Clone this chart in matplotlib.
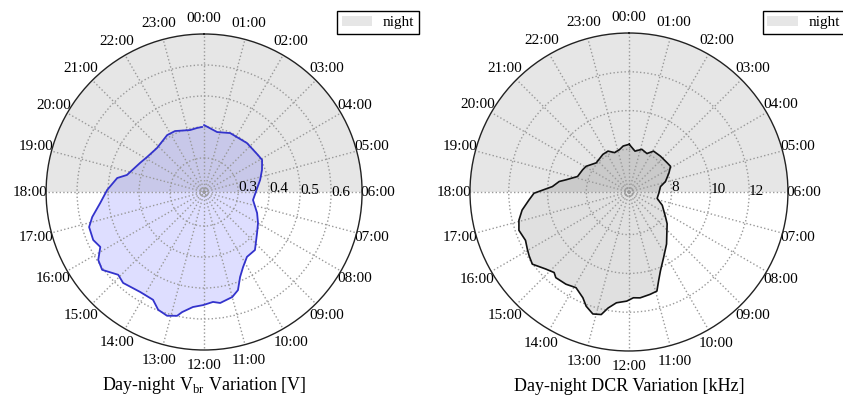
import numpy as np
import matplotlib

matplotlib.use("Agg")  # headless
import matplotlib.pyplot as plt

plt.rcParams["font.family"] = ["Liberation Serif", "DejaVu Serif"]
plt.rcParams["mathtext.fontset"] = "custom"
plt.rcParams["mathtext.rm"] = "Liberation Serif"

# hour-of-day tick labels (00:00 on top, clockwise)
HOUR_LABELS = ["00:00", "01:00", "02:00", "03:00", "04:00", "05:00",
               "06:00", "07:00", "08:00", "09:00", "10:00", "11:00",
               "12:00", "13:00", "14:00", "15:00", "16:00", "17:00",
               "18:00", "19:00", "20:00", "21:00", "22:00", "23:00"]

# breakdown-voltage variation [V] vs hour of day
vbr_hour = [0.0, 0.82, 1.59, 2.75, 3.71, 4.07, 4.61, 5.19, 5.71, 6.62, 7.44,
            8.0, 8.51, 9.25, 9.77, 10.17, 10.47, 10.73, 11.0, 11.45, 11.69,
            12.03, 12.37, 12.69, 12.82, 13.11, 13.42, 13.69, 14.17, 14.78,
            15.07, 15.51, 15.82, 16.14, 16.44, 16.87, 17.16, 17.6, 18.08,
            18.61, 18.83, 19.63, 20.1, 20.87, 21.8, 22.3, 23.15, 23.59, 23.88]
vbr_val = [0.406, 0.388, 0.398, 0.400, 0.401, 0.404, 0.390, 0.375, 0.362,
           0.350, 0.374, 0.391, 0.406, 0.439, 0.441, 0.463, 0.488, 0.525,
           0.541, 0.552, 0.546, 0.555, 0.563, 0.584, 0.599, 0.607, 0.598,
           0.575, 0.573, 0.583, 0.575, 0.604, 0.596, 0.569, 0.580, 0.578,
           0.560, 0.527, 0.503, 0.474, 0.445, 0.417, 0.406, 0.398, 0.409,
           0.408, 0.395, 0.398, 0.400]

# dark count rate variation [kHz] vs hour of day
dcr_hour = [0.02, 0.56, 1.12, 1.67, 2.07, 2.75, 3.51, 3.89, 4.31, 4.93, 5.35,
            6.17, 6.85, 7.45, 8.3, 8.65, 9.61, 10.14, 10.55, 10.77, 10.95,
            11.22, 11.6, 11.84, 12.08, 12.43, 12.68, 12.85, 13.1, 13.37,
            13.57, 13.93, 14.29, 14.7, 14.86, 15.15, 15.55, 15.83, 16.05,
            16.33, 16.72, 17.04, 17.36, 17.69, 17.95, 18.27, 18.57, 18.73,
            19.12, 19.71, 20.06, 20.78, 21.68, 22.19, 22.67, 23.19, 23.52]
dcr_val = [8.26, 7.93, 8.10, 7.99, 8.26, 8.26, 8.28, 8.32, 8.08, 7.76, 7.45,
           7.34, 7.29, 7.65, 8.09, 8.36, 9.11, 9.62, 10.18, 10.63, 11.11,
           11.19, 11.29, 11.26, 11.43, 11.55, 11.88, 12.28, 12.36, 12.09,
           11.75, 11.44, 11.56, 11.61, 11.47, 11.65, 12.02, 11.91, 11.81,
           11.69, 11.81, 11.66, 11.39, 10.98, 10.70, 9.76, 9.44, 9.11, 8.57,
           8.45, 8.38, 8.06, 8.16, 8.17, 7.96, 8.05, 8.19]

vbr_ticks = [0.2, 0.3, 0.4, 0.5, 0.6]
vbr_tick_labels = ["", "0.3", "0.4", "0.5", "0.6"]
dcr_ticks = [6, 8, 10, 12]
dcr_tick_labels = ["", "8", "10", "12"]

NIGHT = "#e6e6e6"


def setup(ax, rmin, rmax, ticks, labels):
    ax.set_theta_zero_location("N")
    ax.set_theta_direction(-1)
    ax.set_rlim(rmin, rmax)
    # night half: 18:00 -> 06:00 through midnight
    ax.bar(0.0, rmax - rmin, width=np.pi, bottom=rmin, color=NIGHT,
           edgecolor="none", zorder=0.5, label="night")
    ax.set_xticks(np.deg2rad(np.arange(24) * 15.0))
    ax.set_xticklabels(HOUR_LABELS, fontsize=11)
    ax.set_yticks(ticks)
    ax.set_yticklabels(labels, fontsize=11)
    ax.set_rlabel_position(93)
    ax.grid(True, color="#999999", ls=":", lw=1.0)
    ax.spines["polar"].set_color("#222222")
    ax.spines["polar"].set_linewidth(1.0)
    ax.tick_params(axis="x", pad=1)


def legend(ax, loc, anchor):
    ax.legend(loc=loc, bbox_to_anchor=anchor, fontsize=11, fancybox=False,
              framealpha=1, edgecolor="black", borderpad=0.3,
              borderaxespad=0.0, handlelength=2.0, handletextpad=0.7)


def main():
    fig = plt.figure(figsize=(8.43, 4.0), dpi=100)
    ax1 = fig.add_axes([0.0546, 0.125, 0.375, 0.79], projection="polar")
    ax2 = fig.add_axes([0.5575, 0.1225, 0.3772, 0.795], projection="polar")

    setup(ax1, 0.19, 0.70, vbr_ticks, vbr_tick_labels)
    th = np.deg2rad(np.array(vbr_hour) * 15.0)
    ax1.fill(th, vbr_val, color="blue", alpha=0.13, lw=0, zorder=1)
    ax1.plot(th, vbr_val, color="#3333cc", lw=1.3, zorder=3)
    ax1.text(0.5, -0.112, "Day-night V$_{\\mathregular{br}}$ Variation [V]",
             transform=ax1.transAxes, ha="center", va="center", fontsize=13)
    legend(ax1, "upper right", (1.18, 1.073))

    setup(ax2, 5.8, 14.0, dcr_ticks, dcr_tick_labels)
    th = np.deg2rad(np.array(dcr_hour + dcr_hour[:1]) * 15.0)
    r = dcr_val + dcr_val[:1]
    ax2.fill(th, r, color="black", alpha=0.12, lw=0, zorder=1)
    ax2.plot(th, r, color="#111111", lw=1.2, zorder=3)
    ax2.text(0.5, -0.112, "Day-night DCR Variation [kHz]",
             transform=ax2.transAxes, ha="center", va="center", fontsize=13)
    legend(ax2, "upper left", (0.921, 1.069))

    fig.savefig("out.png", dpi=100)


if __name__ == "__main__":
    main()
